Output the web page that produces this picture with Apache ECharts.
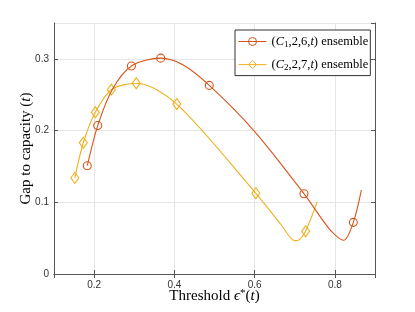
<!DOCTYPE html>
<html><head><meta charset="utf-8">
<script src="https://cdn.jsdelivr.net/npm/echarts@6/dist/echarts.min.js"></script>
<style>html,body{margin:0;padding:0;background:#fff}#c{width:415px;height:312px}</style>
</head><body><div id="c"></div>
<script>
// (C1,2,6,t) ensemble
const c1MarkerX = [0.183, 0.209, 0.293, 0.366, 0.487, 0.723, 0.846];
const c1MarkerY = [0.151, 0.207, 0.290, 0.301, 0.263, 0.112, 0.072];
const c1CurveX  = [0.245, 0.42, 0.598, 0.787, 0.822, 0.866];
const c1CurveY  = [0.257, 0.292, 0.200, 0.0623, 0.047, 0.117];
// (C2,2,7,t) ensemble
const c2MarkerX = [0.152, 0.173, 0.203, 0.243, 0.305, 0.406, 0.603, 0.727];
const c2MarkerY = [0.134, 0.183, 0.2255, 0.257, 0.266, 0.237, 0.1125, 0.0595];
const c2CurveX  = [0.667, 0.70, 0.712, 0.756];
const c2CurveY  = [0.068, 0.0465, 0.048, 0.101];

const yTicks = [0, 0.1, 0.2, 0.3];

function merge(mx, my, cx, cy) {
  const pts = [];
  mx.forEach((x, i) => pts.push({ value: [x, my[i]] }));
  cx.forEach((x, i) => pts.push({ value: [x, cy[i]], symbol: 'none' }));
  pts.sort((a, b) => a.value[0] - b.value[0]);
  return pts;
}

const RED = '#D95319', YEL = '#EDB120';
const axisColor = '#555';
const labelStyle = { fontFamily: 'Liberation Sans', fontSize: 10, color: '#333' };
const serif = 'Liberation Serif';

const chart = echarts.init(document.getElementById('c'), null, { renderer: 'canvas' });
const legendRich = {
  t: { fontFamily: serif, fontSize: 12.5, color: '#000' },
  i: { fontFamily: serif, fontSize: 12.5, fontStyle: 'italic', color: '#000' },
  s: { fontFamily: serif, fontSize: 9, color: '#000', padding: [7, 0, 0, 0] }
};
chart.setOption({
  animation: false,
  grid: { left: 54, right: 40, top: 23, bottom: 38, outerBoundsMode: 'none', containLabel: false },
  legend: {
    orient: 'vertical', left: 235, top: 30,
    padding: [5, 2, 3, 3], itemGap: 8.6, itemWidth: 28, itemHeight: 10,
    borderColor: '#333', borderWidth: 1, backgroundColor: '#fff',
    lineStyle: { width: 1 },
    itemStyle: { borderWidth: 1 },
    textStyle: { rich: legendRich },
    formatter: function (name) {
      return name === 'c1'
        ? '{t|(}{i|C}{s|1}{t|,2,6,}{i|t}{t|) ensemble}'
        : '{t|(}{i|C}{s|2}{t|,2,7,}{i|t}{t|) ensemble}';
    },
    data: ['c1', 'c2']
  },
  xAxis: [{
    type: 'value', min: 0.1, max: 0.9, splitNumber: 4,
    axisLine: { show: true, lineStyle: { color: axisColor, width: 1 } },
    axisTick: { show: true, inside: true, length: 4, lineStyle: { color: axisColor } },
    axisLabel: Object.assign({ margin: 6, showMinLabel: false, showMaxLabel: false }, labelStyle),
    splitLine: { show: true, lineStyle: { color: '#e6e6e6', width: 1 } },
    name: '{t|Threshold }{i|ϵ}{s|*}{t|(}{i|t}{t|)}', nameLocation: 'middle', nameGap: 14,
    nameMoveOverlap: false,
    nameTextStyle: { rich: {
      t: { fontFamily: serif, fontSize: 15, color: '#000' },
      i: { fontFamily: serif, fontSize: 15, fontStyle: 'italic', color: '#000' },
      s: { fontFamily: serif, fontSize: 11, color: '#000', padding: [0, 0, 6, 0] }
    } }
  }, {
    type: 'value', position: 'top', min: 0.1, max: 0.9, splitNumber: 4,
    axisLine: { show: true, lineStyle: { color: axisColor, width: 1 } },
    axisTick: { show: true, inside: true, length: 4, lineStyle: { color: axisColor } },
    axisLabel: { show: false }, splitLine: { show: false }
  }],
  yAxis: [{
    type: 'value', min: 0, max: 0.35, interval: 0.1,
    axisLine: { show: true, lineStyle: { color: axisColor, width: 1 } },
    axisTick: { show: true, inside: true, length: 4, lineStyle: { color: axisColor } },
    axisLabel: Object.assign({ margin: 5, showMaxLabel: false,
      formatter: v => (yTicks.some(t => Math.abs(t - v) < 1e-9) ? String(+v.toFixed(2)) : '') }, labelStyle),
    splitLine: { show: true, lineStyle: { color: '#e6e6e6', width: 1 } },
    name: '{t|Gap to capacity (}{i|t}{t|)}', nameLocation: 'middle', nameGap: 20,
    nameMoveOverlap: false,
    nameTextStyle: { rich: {
      t: { fontFamily: serif, fontSize: 15, color: '#000' },
      i: { fontFamily: serif, fontSize: 15, fontStyle: 'italic', color: '#000' }
    } }
  }, {
    type: 'value', position: 'right', min: 0, max: 0.35, interval: 0.1,
    axisLine: { show: true, lineStyle: { color: axisColor, width: 1 } },
    axisTick: { show: true, inside: true, length: 4, lineStyle: { color: axisColor } },
    axisLabel: { show: false }, splitLine: { show: false }
  }],
  series: [{
    name: 'c1', type: 'line', smooth: 0.3, showAllSymbol: true,
    symbol: 'circle', symbolSize: 8,
    lineStyle: { color: RED, width: 1.1 },
    itemStyle: { color: 'rgba(0,0,0,0)', borderColor: RED, borderWidth: 1.1 },
    data: merge(c1MarkerX, c1MarkerY, c1CurveX, c1CurveY), z: 3
  }, {
    name: 'c2', type: 'line', smooth: 0.3, showAllSymbol: true,
    symbol: 'diamond', symbolSize: [8, 11],
    lineStyle: { color: YEL, width: 1.1 },
    itemStyle: { color: 'rgba(0,0,0,0)', borderColor: YEL, borderWidth: 1.1 },
    data: merge(c2MarkerX, c2MarkerY, c2CurveX, c2CurveY), z: 2
  }]
});
</script></body></html>
